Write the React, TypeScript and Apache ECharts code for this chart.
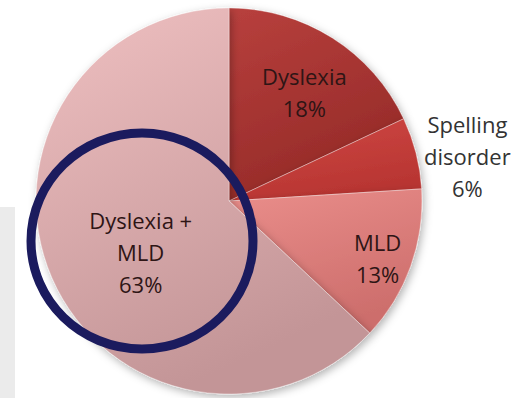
import React, { useEffect, useRef } from "react";
import * as echarts from "echarts";

const categories = ["Dyslexia", "Spelling\ndisorder", "MLD", "Dyslexia +\nMLD"];
const values = [18, 6, 13, 63];
const percentLabels = ["18%", "6%", "13%", "63%"];

const sliceColors: [string, string][] = [
  ["#b8403d", "#952a28"],
  ["#d04844", "#b83532"],
  ["#ea8e8b", "#cd6e6c"],
  ["#efc0c1", "#c39597"],
];
const labelColors = ["#2e1515", "#333333", "#2e1515", "#2e1515"];
// label offsets from default inside position
const labelShift: [number, number][] = [
  [22, -25],
  [142, -20],
  [55, 23],
  [3, 11],
];

export default function App() {
  const ref = useRef<HTMLDivElement>(null);
  useEffect(() => {
    if (!ref.current) return;
    const chart = echarts.init(ref.current, undefined, { renderer: "svg" });
    const data = categories.map((name, i) => ({
      name,
      value: values[i],
      itemStyle: {
        color: new echarts.graphic.LinearGradient(0, 0, 0.4, 1, [
          { offset: 0, color: sliceColors[i][0] },
          { offset: 1, color: sliceColors[i][1] },
        ]),
      },
      label: { color: labelColors[i] },
    }));
    chart.setOption({
      animation: false,
      backgroundColor: "#ffffff",
      graphic: [
        {
          type: "rect",
          z: -1,
          shape: { x: 0, y: 207, width: 15, height: 191 },
          style: { fill: "#ebebeb" },
        },
        {
          type: "ellipse",
          z: 100,
          shape: { cx: 142, cy: 241, rx: 111, ry: 108 },
          style: { fill: "none", stroke: "#1b1b5e", lineWidth: 9 },
        },
      ],
      series: [
        {
          type: "pie",
          center: [229, 201],
          radius: [0, 193],
          startAngle: 90,
          clockwise: true,
          data,
          itemStyle: {
            borderColor: "rgba(255,255,255,0.35)",
            borderWidth: 1,
            shadowBlur: 8,
            shadowColor: "rgba(0,0,0,0.3)",
            shadowOffsetX: 2,
            shadowOffsetY: 3,
          },
          label: {
            show: true,
            position: "inside",
            formatter: (p: any) => `${p.name}\n${percentLabels[p.dataIndex]}`,
            fontFamily: "Open Sans",
            fontSize: 22,
            lineHeight: 32,
            align: "center",
          },
          labelLine: { show: false },
          labelLayout: (p: any) => ({
            dx: labelShift[p.dataIndex][0],
            dy: labelShift[p.dataIndex][1],
          }),
          emphasis: { disabled: true },
        },
      ],
    });
    return () => chart.dispose();
  }, []);
  return (
    <div
      ref={ref}
      style={{ position: "absolute", left: 0, top: 0, width: 524, height: 398 }}
    />
  );
}
